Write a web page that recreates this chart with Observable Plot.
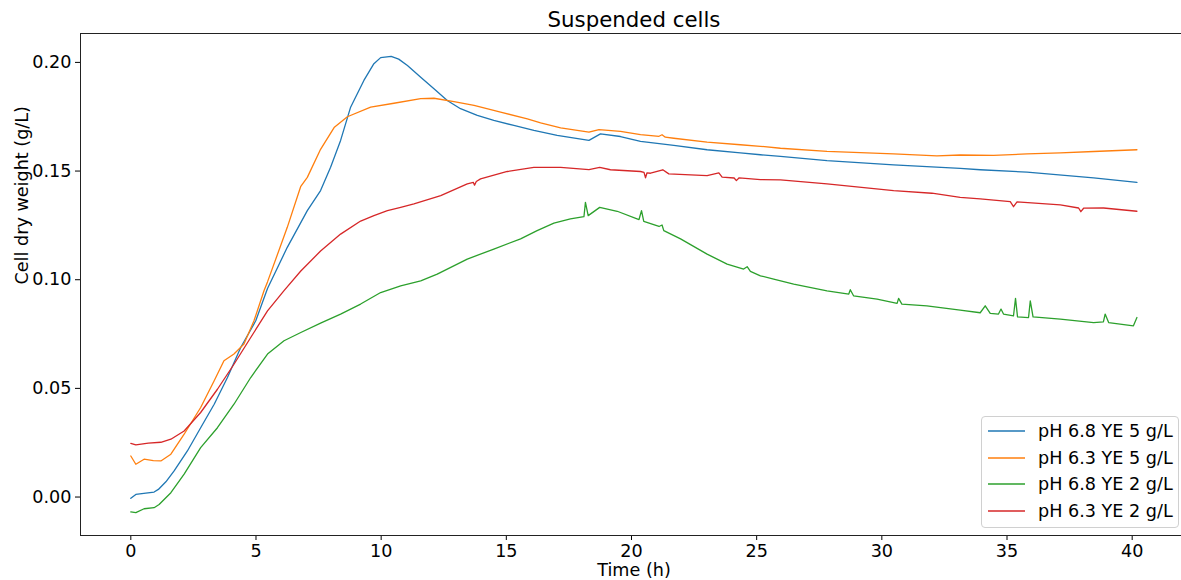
<!DOCTYPE html>
<html>
<head>
<meta charset="utf-8">
<script src="https://cdn.jsdelivr.net/npm/d3@7"></script>
<script src="https://cdn.jsdelivr.net/npm/@observablehq/plot@0.6"></script>
<style>
  html, body { margin: 0; padding: 0; background: white; overflow: hidden; }
  #wrap { position: relative; width: 1181px; height: 580px; overflow: hidden; font-family: "DejaVu Sans", sans-serif; }
  #wrap > svg { max-width: none !important; }
  #legend { position: absolute; left: 981px; top: 416px; width: 196px; height: 110px;
            border: 1px solid #d0d0d0; border-radius: 4px; background: rgba(255,255,255,0.8); }
  .lrow { position: absolute; left: 0; height: 22px; display: flex; align-items: center; }
  .lrow svg { margin-left: 6px; }
  .lrow span { margin-left: 13px; font-size: 17.6px; color: #000; white-space: nowrap; }
</style>
</head>
<body>
<div id="wrap"></div>
<script>
// ---- data ----
const title = "Suspended cells";
const xLabel = "Time (h)";
const yLabel = "Cell dry weight (g/L)";
const seriesNames = ["pH 6.8 YE 5 g/L", "pH 6.3 YE 5 g/L", "pH 6.8 YE 2 g/L", "pH 6.3 YE 2 g/L"];
const seriesColors = ["#1f77b4", "#ff7f0e", "#2ca02c", "#d62728"];
const xTicks = [0, 5, 10, 15, 20, 25, 30, 35, 40];
const yTicks = [0, 0.05, 0.10, 0.15, 0.20];

const tBlue = [0,0.2,0.6,0.93,1.1,1.4,1.73,2.26,2.79,3.33,3.86,4.39,4.99,5.46,6.25,7.05,7.58,7.98,8.38,8.78,9.31,9.71,9.98,10.4,10.7,11.05,11.58,12.11,12.64,13.17,13.84,14.5,15.3,16.1,17.03,18.3,18.76,19.56,20.36,21.69,23.02,24.35,25.15,25.95,27.81,30.47,33.13,33.93,35.8,38.46,40.19];
const vBlue = [-0.0006,0.0012,0.0018,0.0023,0.0035,0.0070,0.0120,0.0212,0.0319,0.0427,0.0550,0.0688,0.0811,0.0960,0.1149,0.1318,0.1410,0.1518,0.1641,0.1794,0.1917,0.1994,0.2022,0.2028,0.2015,0.1986,0.1932,0.1879,0.1825,0.1787,0.1756,0.1733,0.1710,0.1687,0.1664,0.1641,0.1671,0.1659,0.1637,0.1618,0.1598,0.1584,0.1575,0.1568,0.1548,0.1528,0.1512,0.1506,0.1495,0.1469,0.1448];

const tOrange = [0,0.2,0.53,0.9,1.2,1.6,2.13,2.79,3.33,3.72,4.12,4.52,4.92,5.32,5.46,6.25,6.79,7.05,7.58,8.12,8.65,9.58,10.51,11.58,12.11,12.91,13.71,14.77,15.84,16.37,17.17,18.3,18.7,19.56,20.36,21.1,21.22,21.35,21.69,23.02,24.35,25.15,25.95,27.81,30.47,32.2,33.13,34.46,35.8,37.13,38.46,40.19];
const vOrange = [0.0189,0.0151,0.0174,0.0168,0.0166,0.0197,0.0289,0.0412,0.0535,0.0627,0.0658,0.0704,0.0811,0.0949,0.0990,0.1241,0.1430,0.1471,0.1600,0.1700,0.1750,0.1794,0.1812,0.1833,0.1835,0.1820,0.1802,0.1771,0.1740,0.1722,0.1699,0.1679,0.1691,0.1683,0.1668,0.1660,0.1667,0.1656,0.1651,0.1633,0.1621,0.1614,0.1605,0.1591,0.1579,0.1570,0.1574,0.1572,0.1579,0.1584,0.1590,0.1598];

const tGreen = [0,0.2,0.53,0.93,1.13,1.6,2.13,2.79,3.46,4.12,4.79,5.46,6.12,6.79,7.58,8.38,9.18,9.98,10.78,11.58,12.24,13.44,14.5,15.57,16.23,16.9,17.56,18.1,18.16,18.27,18.73,19.43,20.3,20.4,20.49,21.1,21.22,21.29,21.96,23.02,23.82,24.48,24.62,24.75,25.15,25.68,26.48,27.81,28.68,28.74,28.87,29.81,30.61,30.67,30.8,31.8,33.13,33.93,34.13,34.33,34.66,34.76,34.86,35.26,35.34,35.42,35.86,35.93,36.04,37.13,38.46,38.85,38.92,39.06,40.05,40.19];
const vGreen = [-0.0068,-0.0072,-0.0054,-0.0049,-0.0034,0.0020,0.0105,0.0227,0.0319,0.0427,0.0550,0.0658,0.0719,0.0757,0.0800,0.0842,0.0888,0.0941,0.0972,0.0995,0.1026,0.1095,0.1141,0.1188,0.1226,0.1260,0.1280,0.1290,0.1356,0.1295,0.1333,0.1315,0.1277,0.1318,0.1269,0.1245,0.1252,0.1226,0.1188,0.1118,0.1072,0.1049,0.1060,0.1038,0.1018,0.1003,0.0980,0.0949,0.0934,0.0954,0.0926,0.0911,0.0891,0.0914,0.0888,0.0880,0.0860,0.0848,0.0880,0.0845,0.0842,0.0865,0.0842,0.0834,0.0914,0.0829,0.0826,0.0903,0.0829,0.0819,0.0803,0.0806,0.0842,0.0803,0.0788,0.0826];

const tRed = [0,0.2,0.7,1.2,1.6,2.13,2.79,3.46,4.12,4.79,5.46,6.12,6.79,7.58,8.38,9.18,9.71,10.25,10.78,11.31,12.38,13.44,13.68,13.73,13.8,13.97,15.04,16.1,17.17,18.3,18.73,19.16,20.36,20.5,20.56,20.62,20.76,21.25,21.49,23.02,23.49,23.62,24.1,24.19,24.3,25.15,25.95,27.81,30.47,32.0,33.13,33.93,35.13,35.26,35.4,37.13,37.86,37.95,38.06,38.86,40.19];
const vRed = [0.0247,0.0240,0.0248,0.0252,0.0266,0.0304,0.0389,0.0496,0.0611,0.0734,0.0857,0.0950,0.1040,0.1132,0.1210,0.1270,0.1295,0.1318,0.1333,0.1349,0.1387,0.1441,0.1448,0.1435,0.1452,0.1464,0.1498,0.1517,0.1517,0.1507,0.1517,0.1506,0.1498,0.1494,0.1469,0.1492,0.1490,0.1506,0.1487,0.1479,0.1492,0.1472,0.1468,0.1456,0.1469,0.1461,0.1459,0.1441,0.1410,0.1398,0.1379,0.1372,0.1359,0.1336,0.1358,0.1344,0.1330,0.1313,0.1329,0.1330,0.1315];

const seriesT = [tBlue, tOrange, tGreen, tRed];
const seriesV = [vBlue, vOrange, vGreen, vRed];

// ---- tidy table ----
const data = [];
seriesNames.forEach((name, i) => {
  seriesT[i].forEach((t, j) => data.push({series: name, t, v: seriesV[i][j]}));
});

const chart = Plot.plot({
  width: 1187,
  height: 580,
  marginLeft: 80,
  marginRight: 0,
  marginTop: 33,
  marginBottom: 45,
  style: {fontFamily: "DejaVu Sans, sans-serif", fontSize: "17.6px", color: "#000", background: "white", overflow: "visible", maxWidth: "none"},
  x: {domain: [-2.01, 42.21], ticks: xTicks, tickSize: 5, tickPadding: 4, label: null, tickFormat: d => String(d)},
  y: {domain: [-0.0177, 0.2133], ticks: yTicks, tickSize: 5, tickPadding: 4, label: null, tickFormat: d3.format(".2f")},
  color: {domain: seriesNames, range: seriesColors},
  marks: [
    Plot.line(data, {x: "t", y: "v", z: "series", stroke: "series", strokeWidth: 1.3, curve: "linear"}),
    Plot.frame({stroke: "#222", strokeWidth: 1}),
    Plot.text([title], {frameAnchor: "top", lineAnchor: "middle", dy: -13, text: d => d, fontSize: 21.3, fill: "#000"}),
    Plot.text([xLabel], {frameAnchor: "bottom", lineAnchor: "middle", dy: 35, text: d => d, fontSize: 17.6, fill: "#000"}),
    Plot.text([yLabel], {frameAnchor: "left", lineAnchor: "middle", dx: -58, rotate: -90, text: d => d, fontSize: 17.6, fill: "#000"})
  ]
});
chart.style.maxWidth = "none";
const wrap = document.getElementById("wrap");
wrap.appendChild(chart);

// ---- legend ----
const legend = document.createElement("div");
legend.id = "legend";
const rowTops = [3, 30, 56, 83];
seriesNames.forEach((name, i) => {
  const row = document.createElement("div");
  row.className = "lrow";
  row.style.top = rowTops[i] + "px";
  row.innerHTML = `<svg width="37" height="4"><line x1="0" y1="2" x2="37" y2="2" stroke="${seriesColors[i]}" stroke-width="1.3"/></svg><span>${name}</span>`;
  legend.appendChild(row);
});
wrap.appendChild(legend);
</script>
</body>
</html>
